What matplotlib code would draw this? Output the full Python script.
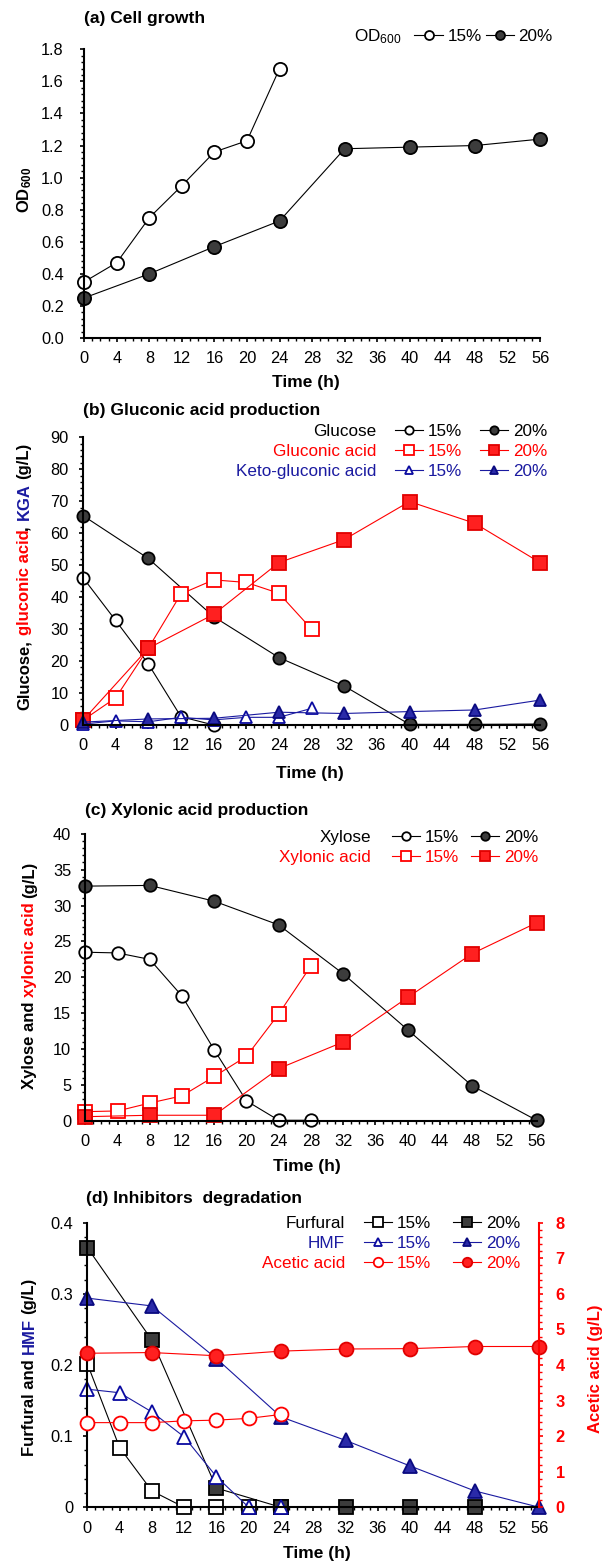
import matplotlib
matplotlib.use('Agg')
import matplotlib.pyplot as plt
from matplotlib.ticker import MultipleLocator, FuncFormatter

plt.rcParams['font.family'] = ['Liberation Sans', 'DejaVu Sans']
plt.rcParams['mathtext.fontset'] = 'custom'
plt.rcParams['mathtext.rm'] = 'Liberation Sans'
plt.rcParams['mathtext.bf'] = 'Liberation Sans:bold'
plt.rcParams['mathtext.default'] = 'regular'

W, H = 611, 1562
RED = '#FF0000'
BLUE = '#1A1AA0'
GREY = '#3C3C3C'
FS_TICK = 11.8
FS_LEG = 12.3
FS_BOLD = 12.5

# ---- data ----
time_ticks = list(range(0, 57, 4))

# (a) cell growth
t_od15 = [0, 4, 8, 12, 16, 20, 24]
od_15 = [0.35, 0.47, 0.75, 0.95, 1.16, 1.23, 1.68]
t_od20 = [0, 8, 16, 24, 32, 40, 48, 56]
od_20 = [0.25, 0.40, 0.57, 0.73, 1.18, 1.19, 1.20, 1.24]

# (b) gluconic acid
t_b15 = [0, 4, 8, 12, 16, 20, 24, 28]
t_b20 = [0, 8, 16, 24, 32, 40, 48, 56]
t_glc15 = [0, 4, 8, 12, 16]
glucose_15 = [46.1, 32.7, 19.1, 2.6, 0.0]
glucose_20 = [65.5, 52.1, 33.9, 21.1, 12.2, 0.2, 0.2, 0.3]
gluconic_15 = [1.5, 8.5, 24.0, 41.0, 45.4, 44.6, 41.2, 30.0]
gluconic_20 = [1.5, 24.0, 34.6, 50.8, 58.0, 69.9, 63.1, 50.8]
kga_15 = [0.3, 1.3, 1.0, 2.4, 1.6, 2.4, 2.4, 5.2]
kga_20 = [0.9, 1.9, 2.1, 4.0, 3.6, 4.2, 4.7, 7.8]

# (c) xylonic acid
t_c15 = [0, 4, 8, 12, 16, 20, 24, 28]
t_c20 = [0, 8, 16, 24, 32, 40, 48, 56]
xylose_15 = [23.5, 23.4, 22.5, 17.4, 9.9, 2.8, 0.1, 0.1]
xylose_20 = [32.7, 32.8, 30.6, 27.3, 20.5, 12.7, 4.9, 0.1]
xylonic_15 = [1.3, 1.4, 2.5, 3.5, 6.2, 9.0, 14.9, 21.6]
xylonic_20 = [0.6, 0.8, 0.8, 7.3, 11.0, 17.2, 23.3, 27.6]

# (d) inhibitors
t_d15 = [0, 4, 8, 12, 16, 20, 24]
t_fur20 = [0, 8, 16, 24, 32, 40, 48]
t_d20 = [0, 8, 16, 24, 32, 40, 48, 56]
furfural_15 = [0.202, 0.084, 0.023, 0.0, 0.0, 0.0, 0.0]
furfural_20 = [0.365, 0.235, 0.027, 0.0, 0.0, 0.0, 0.0]
hmf_15 = [0.166, 0.161, 0.134, 0.099, 0.043, 0.0, 0.0]
hmf_20 = [0.294, 0.283, 0.209, 0.127, 0.094, 0.058, 0.023, 0.0]
acetic_15 = [2.38, 2.38, 2.38, 2.43, 2.45, 2.50, 2.61]
acetic_20 = [4.33, 4.35, 4.26, 4.39, 4.45, 4.46, 4.52, 4.52]

fig = plt.figure(figsize=(W / 100, H / 100), dpi=100)


def px_axes(left, right, top, bottom):
    return fig.add_axes([left / W, 1 - bottom / H, (right - left) / W, (bottom - top) / H])


def series(ax, t, y, marker, color, face, ms, edge=None):
    return ax.plot(t, y, marker=marker, color=color, lw=0.8, mfc=face,
                   mec=edge or color, ms=ms, mew=1.3, clip_on=False)[0]


def style(ax, ymax, major, minor, fmt, ypad):
    ax.set_xlim(0, 56)
    ax.set_ylim(0, ymax)
    ax.set_xticks(time_ticks)
    ax.xaxis.set_minor_locator(MultipleLocator(1))
    ax.yaxis.set_major_locator(MultipleLocator(major))
    ax.yaxis.set_minor_locator(MultipleLocator(minor))
    ax.yaxis.set_major_formatter(FuncFormatter(fmt))
    for s in ['top', 'right']:
        ax.spines[s].set_visible(False)
    for s in ['left', 'bottom']:
        ax.spines[s].set_linewidth(1.5)
    ax.tick_params(which='major', direction='out', length=3.2, width=1.2, labelsize=FS_TICK)
    ax.tick_params(which='minor', direction='out', length=2, width=1)
    ax.tick_params(axis='y', which='major', pad=ypad)
    ax.tick_params(axis='x', which='major', pad=6.5)


legends = []


def legend(ax, handles, colors, anchor, cs, names, names_right_px):
    labels = ['15%'] * len(colors) + ['20%'] * len(colors)
    leg = ax.legend(handles, labels, ncol=2, loc='upper right', bbox_to_anchor=anchor,
                    frameon=False, fontsize=FS_LEG, handlelength=1.64, handletextpad=0.29,
                    columnspacing=cs, labelspacing=0.28, borderpad=0, borderaxespad=0,
                    markerscale=0.68)
    for txt, c in zip(leg.get_texts(), colors * 2):
        txt.set_color(c)
    # row names, right aligned, put in line with the legend rows after drawing
    row_texts = [fig.text(names_right_px / W, 0.5, s, ha='right', va='baseline', color=c,
                          fontsize=FS_LEG) for s, c in zip(names, colors)]
    legends.append((leg, row_texts))


def title(s, x_px, y_px):
    fig.text(x_px / W, 1 - y_px / H, s, ha='left', va='center', fontweight='bold',
             fontsize=FS_BOLD)


def xlabel(ax, xf, yf):
    ax.text(xf, yf, 'Time (h)', transform=ax.transAxes, ha='center', va='center',
            fontweight='bold', fontsize=FS_BOLD)


stacked = []


def ylabel(ax, pieces, x, dy_px=0, fs=12):
    # pieces: (text, color, gap_before)
    texts = []
    for s, c, g in pieces:
        t = ax.text(x, 0.5, s, transform=ax.transAxes, rotation=90, rotation_mode='anchor',
                    ha='left', va='baseline', color=c, fontsize=fs, fontweight='bold')
        texts.append((t, g))
    stacked.append((ax, texts, dy_px, fs))


def finish_layout():
    fig.canvas.draw()
    r = fig.canvas.get_renderer()
    for ax, texts, dy_px, fs in stacked:
        space = 0.278 * fs * fig.dpi / 72
        sizes = [t.get_window_extent(r).height for t, g in texts]
        total = sum(sizes) + sum(space for t, g in texts if g)
        bb = ax.get_window_extent(r)
        y = bb.y0 + bb.height / 2 - total / 2 + dy_px
        for (t, g), h in zip(texts, sizes):
            if g:
                y += space
            t.set_y((y - bb.y0) / bb.height)
            y += h
    for leg, row_texts in legends:
        for lt, rt in zip(leg.get_texts(), row_texts):
            # match the baseline of the first-column legend text
            base = lt.get_transform().transform(lt.get_position())[1]
            rt.set_y(base / fig.bbox.height)


dec1 = lambda v, p: f'{v:.1f}'
intf = lambda v, p: f'{v:.0f}'
d_left = lambda v, p: '0' if abs(v) < 1e-9 else f'{v:.1f}'

# ---- (a) cell growth ----
ax_a = px_axes(84.2, 540.1, 49.3, 338)
a15 = series(ax_a, t_od15, od_15, 'o', 'black', 'white', 9.5)
a20 = series(ax_a, t_od20, od_20, 'o', 'black', GREY, 9.5)
style(ax_a, 1.8, 0.2, 0.04, dec1, 11.5)
legend(ax_a, [a15, a20], ['black'], (1.028, 1.071), 0.23, [r'OD$_{600}$'], 401.4)
title('(a) Cell growth', 83.8, 19)
xlabel(ax_a, 0.4865, -0.155)
ylabel(ax_a, [(r'$\mathbf{OD}_\mathbf{600}$', 'black', False)], -0.1206, 4)

# ---- (b) gluconic acid ----
ax_b = px_axes(83, 540.1, 437.3, 725)
b_g15 = series(ax_b, t_glc15, glucose_15, 'o', 'black', 'white', 8.8)
b_g20 = series(ax_b, t_b20, glucose_20, 'o', 'black', GREY, 8.8)
b_a15 = series(ax_b, t_b15, gluconic_15, 's', RED, 'white', 10)
b_a20 = series(ax_b, t_b20, gluconic_20, 's', RED, '#FF2020', 10, '#E00000')
b_k15 = series(ax_b, t_b15, kga_15, '^', BLUE, 'white', 8.5, '#0A0AA0')
b_k20 = series(ax_b, t_b20, kga_20, '^', BLUE, '#2A2AA8', 8.5, '#0A0A80')
style(ax_b, 90, 10, 2, intf, 7)
legend(ax_b, [b_g15, b_a15, b_k15, b_g20, b_a20, b_k20], ['black', RED, BLUE],
       (1.016, 1.045), 1.05, ['Glucose', 'Gluconic acid', 'Keto-gluconic acid'], 376.5)
title('(b) Gluconic acid production', 83, 411)
xlabel(ax_b, 0.496, -0.168)
ylabel(ax_b, [('Glucose,', 'black', False), ('gluconic acid', RED, True),
              (',', 'black', False), ('KGA', BLUE, True), ('(g/L)', 'black', True)],
       -0.119, 5)

# ---- (c) xylonic acid ----
ax_c = px_axes(85.3, 536.6, 833.7, 1121)
c_x15 = series(ax_c, t_c15, xylose_15, 'o', 'black', 'white', 9)
c_x20 = series(ax_c, t_c20, xylose_20, 'o', 'black', GREY, 9)
c_a15 = series(ax_c, t_c15, xylonic_15, 's', RED, 'white', 10)
c_a20 = series(ax_c, t_c20, xylonic_20, 's', RED, '#FF2020', 10, '#E00000')
style(ax_c, 40, 5, 1, intf, 7)
legend(ax_c, [c_x15, c_a15, c_x20, c_a20], ['black', RED], (1.003, 1.012), 0.67,
       ['Xylose', 'Xylonic acid'], 371)
title('(c) Xylonic acid production', 84.6, 810.7)
xlabel(ax_c, 0.491, -0.160)
ylabel(ax_c, [('Xylose and', 'black', False), ('xylonic acid', RED, True),
              ('(g/L)', 'black', True)], -0.114, 2)

# ---- (d) inhibitors degradation ----
ax_d = px_axes(87.3, 539.4, 1222.7, 1507.3)
ax_r = ax_d.twinx()
d_f15 = series(ax_d, t_d15, furfural_15, 's', 'black', 'white', 10.5)
d_f20 = series(ax_d, t_fur20, furfural_20, 's', 'black', GREY, 10.5)
d_h15 = series(ax_d, t_d15, hmf_15, '^', BLUE, 'white', 9.5, '#0A0AA0')
d_h20 = series(ax_d, t_d20, hmf_20, '^', BLUE, '#2A2AA8', 9.5, '#0A0A80')
d_c15 = series(ax_r, t_d15, acetic_15, 'o', RED, 'white', 10)
d_c20 = series(ax_r, t_d20, acetic_20, 'o', RED, '#FF2020', 10, '#E00000')
style(ax_d, 0.4, 0.1, 0.02, d_left, 7)
ax_r.set_ylim(0, 8)
ax_r.yaxis.set_major_locator(MultipleLocator(1))
ax_r.yaxis.set_minor_locator(MultipleLocator(0.2))
for s in ['top', 'left', 'bottom']:
    ax_r.spines[s].set_visible(False)
ax_r.spines['right'].set_color(RED)
ax_r.spines['right'].set_linewidth(1.5)
ax_r.tick_params(which='major', direction='out', length=3.2, width=1.2, colors=RED,
                 labelsize=FS_TICK, pad=8.5)
ax_r.tick_params(which='minor', direction='out', length=2, width=1, colors=RED)
for lab in ax_r.get_yticklabels():
    lab.set_fontweight('bold')
legend(ax_r, [d_f15, d_h15, d_c15, d_f20, d_h20, d_c20], ['black', BLUE, RED],
       (0.957, 1.023), 1.26, ['Furfural', 'HMF', 'Acetic acid'], 345)
title('(d) Inhibitors  degradation', 86.5, 1198.3)
xlabel(ax_d, 0.507, -0.1616)
ylabel(ax_d, [('Furfural and', 'black', False), ('HMF', BLUE, True),
              ('(g/L)', 'black', True)], -0.119, -1.5)
ylabel(ax_r, [('Acetic acid (g/L)', RED, False)], 1.133, -4)

finish_layout()
fig.savefig('out.png', dpi=100)
